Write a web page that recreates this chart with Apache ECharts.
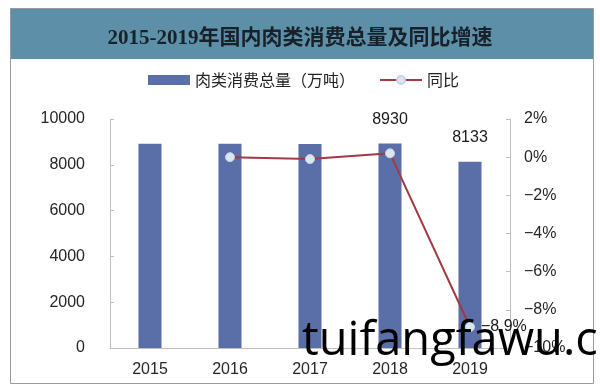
<!DOCTYPE html>
<html><head><meta charset="utf-8">
<script src="https://cdn.jsdelivr.net/npm/echarts@6/dist/echarts.min.js"></script>
<style>html,body{margin:0;padding:0;background:#fff}#c{width:600px;height:390px}</style>
</head><body><div id="c"></div>
<script>
const titleText = '2015-2019年国内肉类消费总量及同比增速';
const categories = ['2015', '2016', '2017', '2018', '2019'];
const barName = '肉类消费总量（万吨）';
const lineName = '同比';
const consumption = [8920, 8921, 8912, 8930, 8133];
const yoy = [null, 0.0, -0.1, 0.2, -8.9];
const labeledBars = [3, 4];
const labeledYoy = [4];
const watermark = 'tuifangfawu.c';

const fmtPct = v => (v < 0 ? '\u2212' : '') + Math.abs(v) + '%';
const chart = echarts.init(document.getElementById('c'), null, {renderer: 'canvas'});
const axisFont = "'Liberation Sans', Arial, sans-serif";
const cjk = "'Noto Sans CJK SC', sans-serif";

chart.setOption({
  animation: false,
  backgroundColor: '#fff',
  title: {
    text: titleText, left: 'center', top: 23,
    textStyle: {fontSize: 21, fontWeight: 'bold', color: '#17212a',
      fontFamily: "'Liberation Serif', 'Noto Sans CJK SC', serif"}
  },
  legend: {
    top: 67, left: 143, itemWidth: 42, itemHeight: 10, itemGap: 24,
    textStyle: {fontSize: 16, color: '#222', fontFamily: cjk},
    data: [{name: barName, icon: 'rect'}, {name: lineName}]
  },
  grid: {left: 110, right: 90, top: 119, bottom: 42},
  xAxis: {
    type: 'category', data: categories,
    axisLine: {lineStyle: {color: '#bfbfbf'}},
    axisTick: {show: false},
    axisLabel: {fontSize: 16, color: '#262626', margin: 14, fontFamily: axisFont}
  },
  yAxis: [{
    type: 'value', min: 0, max: 10000, interval: 2000,
    axisLine: {show: true, lineStyle: {color: '#bfbfbf'}},
    axisTick: {show: true, inside: true, length: 4, lineStyle: {color: '#bfbfbf'}},
    splitLine: {show: false},
    axisLabel: {fontSize: 16, color: '#262626', margin: 25, fontFamily: axisFont, formatter: v => String(v)}
  }, {
    type: 'value', min: -10, max: 2, interval: 2, position: 'right',
    axisLine: {show: true, lineStyle: {color: '#bfbfbf'}},
    axisTick: {show: true, inside: true, length: 4, lineStyle: {color: '#bfbfbf'}},
    splitLine: {show: false},
    axisLabel: {fontSize: 16, color: '#262626', margin: 14, fontFamily: axisFont, formatter: fmtPct}
  }],
  series: [{
    name: barName, type: 'bar', barWidth: 23,
    itemStyle: {color: '#5a6fa8'},
    data: consumption.map((v, i) => ({
      value: v,
      label: {show: labeledBars.includes(i), position: 'top', distance: 16,
        fontSize: 16, color: '#1a1a1a', fontFamily: axisFont}
    })),
    z: 2
  }, {
    name: lineName, type: 'line', yAxisIndex: 1,
    symbol: 'circle', symbolSize: 9,
    lineStyle: {color: '#a13a43', width: 2},
    itemStyle: {color: '#dce6f1', borderColor: '#c5d3e6', borderWidth: 1},
    data: yoy.map((v, i) => ({
      value: v,
      label: {show: labeledYoy.includes(i), position: 'right', distance: 6,
        fontSize: 16, color: '#1a1a1a', fontFamily: axisFont, formatter: p => fmtPct(p.value)}
    })),
    z: 3
  }],
  graphic: [
    {type: 'rect', shape: {x: 10, y: 8, width: 583, height: 51}, style: {fill: '#5d8fa8'}, z: 0, silent: true},
    {type: 'rect', shape: {x: 10.5, y: 8.5, width: 583, height: 375}, style: {fill: 'none', stroke: '#9a9a9a', lineWidth: 1}, z: 1, silent: true},
    {type: 'text', x: 302, y: 342, style: {text: watermark, font: "47px 'Open Sans', sans-serif", fill: '#000', verticalAlign: 'middle', align: 'left'}, z: 100, silent: true}
  ]
});
</script></body></html>
